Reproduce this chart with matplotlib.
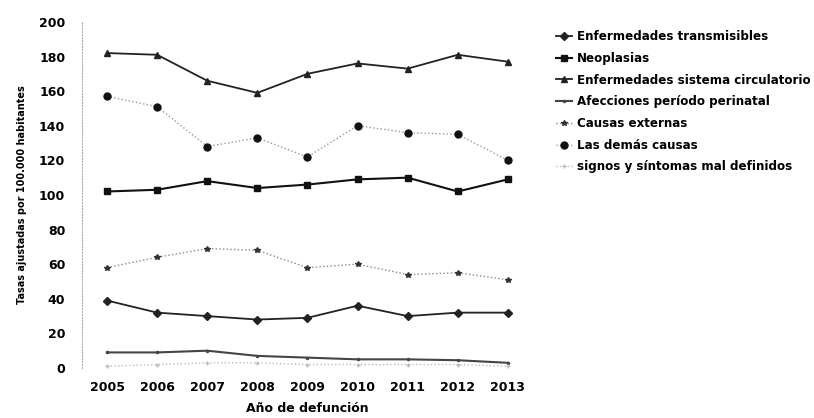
import numpy as np
import matplotlib.pyplot as plt

plt.rcParams['font.family'] = ['DejaVu Sans']

# data
years = [2005, 2006, 2007, 2008, 2009, 2010, 2011, 2012, 2013]
transmisibles = [39, 32, 30, 28, 29, 36, 30, 32, 32]
neoplasias = [102, 103, 108, 104, 106, 109, 110, 102, 109]
circulatorio = [182, 181, 166, 159, 170, 176, 173, 181, 177]
perinatal = [9, 9, 10, 7, 6, 5, 5, 4.5, 3]
externas = [58, 64, 69, 68, 58, 60, 54, 55, 51]
demas = [157, 151, 128, 133, 122, 140, 136, 135, 120]
signos = [1, 2, 3, 3, 2, 2, 2, 2, 1]

fig = plt.figure(figsize=(8.14, 4.18), dpi=100)
ax = fig.add_axes([0.1007, 0.1196, 0.554, 0.828])

ax.plot(years, transmisibles, color='#222222', lw=1.3, marker='D', ms=4, label='Enfermedades transmisibles')
ax.plot(years, neoplasias, color='#111111', lw=1.5, marker='s', ms=5, label='Neoplasias')
ax.plot(years, circulatorio, color='#222222', lw=1.3, marker='^', ms=4.5, label='Enfermedades sistema circulatorio')
ax.plot(years, perinatal, color='#444444', lw=1.5, marker='.', ms=3, label='Afecciones período perinatal')
ax.plot(years, externas, color='#888888', lw=1.0, ls=':', marker='*', ms=4, mfc='#333333', mec='#333333', label='Causas externas')
ax.plot(years, demas, color='#999999', lw=1.0, ls=':', marker='o', ms=5, mfc='#111111', mec='#111111', label='Las demás causas')
ax.plot(years, signos, color='#bbbbbb', lw=1.0, ls=':', marker='+', ms=3, label='signos y síntomas mal definidos')

ax.set_xlim(2004.5, 2013.5)
ax.set_ylim(0, 200)
ax.set_yticks(np.arange(0, 201, 20))
ax.set_xticks(years)
for s in ['top', 'right', 'bottom']:
    ax.spines[s].set_visible(False)
ax.spines['left'].set_linestyle(':')
ax.spines['left'].set_color('#aaaaaa')
ax.tick_params(length=0, labelsize=9)
for lbl in ax.get_xticklabels() + ax.get_yticklabels():
    lbl.set_fontweight('bold')
ax.tick_params(axis='y', pad=12)
ax.tick_params(axis='x', pad=9)

ax.set_ylabel('Tasas ajustadas por 100.000 habitantes', fontsize=7, fontweight='bold', labelpad=9)
ax.set_xlabel('Año de defunción', fontsize=9, fontweight='bold', labelpad=6)

ax.legend(loc='upper left', bbox_to_anchor=(1.04, 0.99), frameon=False,
          prop={'weight': 'bold', 'size': 8.6},
          handlelength=1.4, handletextpad=0.4, labelspacing=0.73, borderaxespad=0)

fig.savefig('out.png', dpi=100)
